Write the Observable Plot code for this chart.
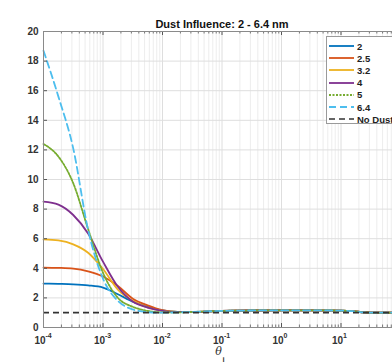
<!DOCTYPE html>
<html><head><meta charset="utf-8">
<script src="https://cdn.jsdelivr.net/npm/d3@7"></script>
<script src="https://cdn.jsdelivr.net/npm/@observablehq/plot@0.6"></script>
<style>
html,body{margin:0;padding:0;background:#fff;overflow:hidden;}
#wrap{position:relative;width:392px;height:364px;overflow:hidden;}
#wrap > svg{display:block;max-width:none !important;width:410px !important;height:364px !important;}
#legend{position:absolute;left:326px;top:36px;width:78px;height:88px;border:1px solid #9a9a9a;background:#fff;box-sizing:border-box;padding-top:3px;font:bold 9.5px "Liberation Sans",Arial,sans-serif;color:#222;}
#legend .row{height:12.2px;display:flex;align-items:center;}
#legend svg{margin-left:2px;margin-right:3px;}
</style></head><body><div id="wrap"></div>
<script>
// x values (theta_i)
const thetaI = [1e-4, 1.78e-4, 3.16e-4, 5.62e-4, 1e-3, 1.78e-3, 3.16e-3, 5.62e-3, 1e-2, 1.78e-2, 3.16e-2, 0.1, 0.316, 1, 3.16, 10, 15.8, 25.1, 50.1, 100];
// series values
const size2  = [2.97, 2.95, 2.92, 2.85, 2.7, 2.25, 1.75, 1.4, 1.15, 1.05, 1.05, 1.12, 1.15, 1.16, 1.16, 1.14, 1.1, 1.02, 1.0, 1.0];
const size25 = [4.05, 4.03, 3.98, 3.8, 3.45, 2.8, 1.95, 1.5, 1.18, 1.06, 1.05, 1.12, 1.15, 1.16, 1.16, 1.14, 1.1, 1.02, 1.0, 1.0];
const size32 = [5.95, 5.88, 5.62, 5.05, 3.95, 2.55, 1.8, 1.35, 1.12, 1.05, 1.05, 1.12, 1.15, 1.16, 1.16, 1.14, 1.1, 1.02, 1.0, 1.0];
const size4  = [8.5, 8.3, 7.6, 6.35, 4.45, 2.75, 1.75, 1.35, 1.13, 1.05, 1.05, 1.12, 1.15, 1.16, 1.16, 1.14, 1.1, 1.02, 1.0, 1.0];
const size5  = [12.4, 11.55, 9.75, 6.65, 3.7, 2.0, 1.4, 1.12, 1.02, 1.02, 1.05, 1.12, 1.15, 1.16, 1.16, 1.14, 1.1, 1.02, 1.0, 1.0];
const size64 = [18.7, 15.6, 12.1, 6.6, 3.3, 1.8, 1.22, 1.04, 1.0, 1.02, 1.05, 1.12, 1.15, 1.16, 1.16, 1.14, 1.1, 1.02, 1.0, 1.0];
const noDust = 1;

const seriesNames  = ["2", "2.5", "3.2", "4", "5", "6.4"];
const seriesValues = [size2, size25, size32, size4, size5, size64];
const seriesColors = ["#0072BD", "#D95319", "#EDB120", "#7E2F8E", "#77AC30", "#4DBEEE"];
const seriesDash   = [null, null, null, null, "2,1.5", "7,4"];
const noDustLabel = "No Dust";

const xTicks = [1e-4, 1e-3, 1e-2, 1e-1, 1, 10, 100];
const xLabelTicks = [1e-4, 1e-3, 1e-2, 1e-1, 1, 10];
const xExponents = ["-4", "-3", "-2", "-1", "0", "1"];
const yTicks = [0, 2, 4, 6, 8, 10, 12, 14, 16, 18, 20];
const titleText = "Dust Influence: 2 - 6.4 nm";
const xLabelMain = "θ";
const xLabelSub = "i";

const minorTicks = [];
for (const d of [1e-4, 1e-3, 1e-2, 1e-1, 1, 10]) for (let k = 2; k <= 9; k++) minorTicks.push(d * k);

const W = 410, H = 364, mL = 43, mR = 10, mT = 31, mB = 37;
const fw = W - mL - mR, fh = H - mT - mB;
const FONT = "Liberation Sans, Arial, sans-serif";

const lineMarks = seriesNames.map((name, i) => Plot.line(
  thetaI.map((x, j) => ({x, y: seriesValues[i][j]})),
  {x: "x", y: "y", stroke: seriesColors[i], strokeWidth: 1.8, strokeDasharray: seriesDash[i], curve: "monotone-x"}
));

const chart = Plot.plot({
  width: W, height: H,
  marginLeft: mL, marginRight: mR, marginTop: mT, marginBottom: mB,
  style: {fontFamily: FONT, fontSize: "10px", background: "#fff"},
  x: {type: "log", domain: [1e-4, 1e2]},
  y: {domain: [0, 20]},
  marks: [
    Plot.ruleX(minorTicks, {x: d => d, stroke: "#ededed", strokeWidth: 1}),
    Plot.ruleX(xTicks, {x: d => d, stroke: "#dedede", strokeWidth: 1}),
    Plot.ruleY(yTicks, {y: d => d, stroke: "#dedede", strokeWidth: 1}),
    ...lineMarks,
    Plot.ruleY([noDust], {y: d => d, stroke: "#333", strokeWidth: 1.7, strokeDasharray: "6,4"}),
    // inward ticks
    Plot.ruleX(xTicks, {x: d => d, stroke: "#555", insetTop: fh - 4}),
    Plot.ruleX(minorTicks, {x: d => d, stroke: "#777", insetTop: fh - 2.5}),
    Plot.ruleX(xTicks, {x: d => d, stroke: "#555", insetBottom: fh - 4}),
    Plot.ruleX(minorTicks, {x: d => d, stroke: "#777", insetBottom: fh - 2.5}),
    Plot.ruleY(yTicks, {y: d => d, stroke: "#555", insetRight: fw - 4}),
    Plot.frame({stroke: "#8a8a8a", strokeWidth: 1}),
    Plot.axisY({ticks: yTicks, tickSize: 0, tickPadding: 5, fontWeight: "bold", fontSize: 10, color: "#333", label: null}),
    Plot.axisX({ticks: [], tickSize: 0, label: null}),
    // x tick labels as 10 with superscript exponent
    Plot.text(xLabelTicks, {x: d => d, frameAnchor: "bottom", text: () => "10", lineAnchor: "bottom", dy: 16, dx: -3.5, fontWeight: "bold", fontSize: 10, fill: "#333"}),
    Plot.text(xLabelTicks, {x: d => d, frameAnchor: "bottom", text: (d, i) => xExponents[i], lineAnchor: "bottom", textAnchor: "start", dy: 10, dx: 2, fontWeight: "bold", fontSize: 7, fill: "#333"}),
    // title
    Plot.text([titleText], {text: d => d, frameAnchor: "top", lineAnchor: "bottom", dy: -4, fontWeight: "bold", fontSize: 11, fill: "#111"}),
    // x label
    Plot.text([xLabelMain], {text: d => d, frameAnchor: "bottom", lineAnchor: "middle", dy: 24, dx: -3.5, fontStyle: "italic", fontSize: 11, fill: "#333", fontFamily: "DejaVu Serif, serif"}),
    Plot.text([xLabelSub], {text: d => d, frameAnchor: "bottom", lineAnchor: "middle", dy: 32, dx: 1.5, fontSize: 7.5, fontWeight: "bold", fill: "#333"})
  ]
});

const wrap = document.getElementById("wrap");
wrap.appendChild(chart);

// legend
const legend = d3.select(wrap).append("div").attr("id", "legend");
const entries = seriesNames.map((n, i) => ({label: n, color: seriesColors[i], dash: seriesDash[i], w: 1.8}))
  .concat([{label: noDustLabel, color: "#333", dash: "6,4", w: 1.7}]);
const rows = legend.selectAll(".row").data(entries).join("div").attr("class", "row");
const sw = rows.append("svg").attr("width", 25).attr("height", 8);
sw.append("line").attr("x1", 0).attr("x2", 25).attr("y1", 4).attr("y2", 4)
  .attr("stroke", d => d.color).attr("stroke-width", d => d.w)
  .attr("stroke-dasharray", d => d.dash);
rows.append("span").text(d => d.label);
</script>
</body></html>
